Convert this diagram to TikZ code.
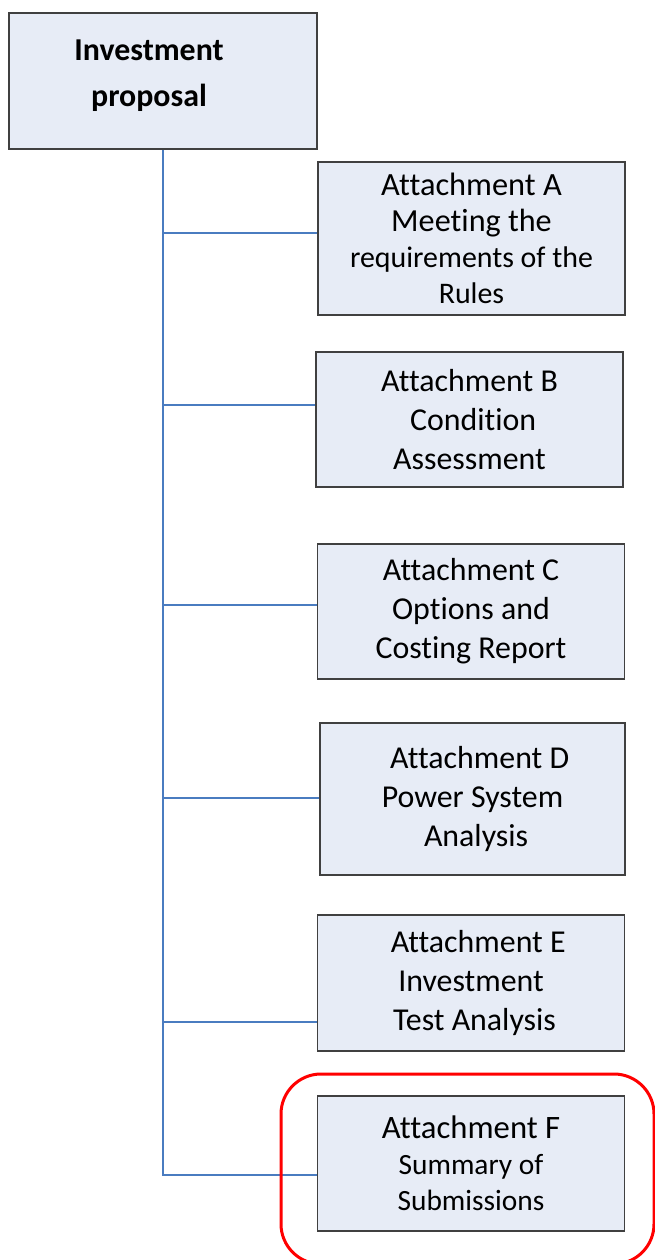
\documentclass[tikz,border=0pt]{standalone}
\usepackage{fontspec}
\setmainfont{Carlito}[Ligatures={NoCommon}]
\usetikzlibrary{calc}
\definecolor{boxfill}{RGB}{231,236,246}
\definecolor{boxdraw}{RGB}{64,64,64}
\definecolor{conn}{RGB}{74,124,192}
\newcommand{\fsz}[1]{\fontsize{#1}{36}\selectfont}
\begin{document}
\begin{tikzpicture}[x=1bp,y=-1bp,
  box/.style={draw=boxdraw, line width=1.2bp, fill=boxfill, inner sep=0pt, align=center,
    minimum width=307bp, minimum height=136bp, font=\fontsize{32}{39}\selectfont},
  link/.style={draw=conn, line width=1.2bp},
  hilite/.style={draw=red, line width=3bp, rounded corners=40bp}]
\useasboundingbox (0,0) rectangle (655,1260);
\fill[white] (0,0) rectangle (655,1260);
% boxes
\node[box, minimum width=308bp] (top) at (163,81) {};
\node[font=\bfseries\fontsize{32}{46}\selectfont, align=center] (toptxt) at (149,76) {Investment\\proposal};
\node[box, minimum height=153bp, font=\fontsize{30}{36}\selectfont] (A) at (471.5,238.5)
  {{\fsz{32.5}Attachment A}\\{\fsz{32.3}Meeting the}\\requirements of the\\Rules};
\node[box, minimum height=135bp] (B) at (469.5,419.5) {Attachment B\\\ Condition\\Assessment};
\node[box, minimum height=135bp] (C) at (471,611.5) {Attachment C\\Options and\\Costing Report};
\node[box, minimum width=305bp, minimum height=152bp] (D) at (472.5,799) {\ \ Attachment D\\Power System\\\ Analysis};
\node[box, minimum height=136bp] (E) at (471,983) {\ \ Attachment E\\Investment\\\ Test Analysis};
\node[box, minimum height=135bp, font=\fontsize{29.5}{36}\selectfont] (F) at (471,1163.5)
  {{\fsz{32.8}Attachment F}\\Summary of\\Submissions};
% connector junctions
\coordinate (jA) at ($(A.west)+(0,-5.5)$);
\coordinate (jB) at ($(B.west)+(0,-14.5)$);
\coordinate (jC) at ($(C.west)+(0,-6.5)$);
\coordinate (jD) at ($(D.west)+(0,-1)$);
\coordinate (jE) at ($(E.west)+(0,39)$);
\coordinate (jF) at ($(F.west)+(0,11.5)$);
\draw[link] (top.south) -- (top.south |- jF) -- (jF);
\foreach \j in {jA,jB,jC,jD,jE}{\draw[link] (top.south |- \j) -- (\j);}
% highlight
\begin{scope}
\clip (0,0) rectangle (655,1260);
\draw[hilite] (281,1074) rectangle (654,1264);
\end{scope}
\end{tikzpicture}
\end{document}
